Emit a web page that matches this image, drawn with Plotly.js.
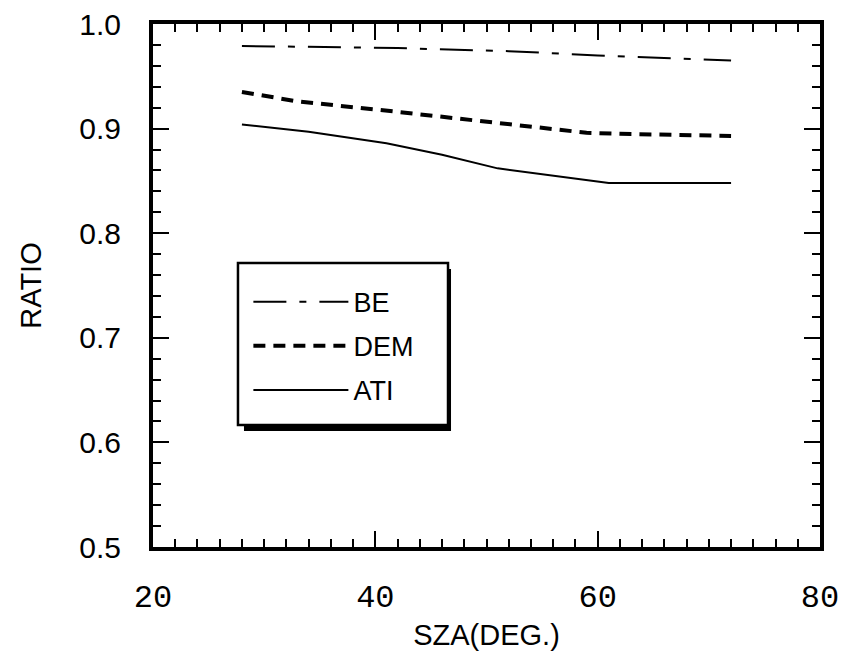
<!DOCTYPE html>
<html><head><meta charset="utf-8">
<script src="https://cdn.plot.ly/plotly-3.0.1.min.js"></script>
<style>html,body{margin:0;padding:0;background:#fff}#chart{width:848px;height:651px}</style>
</head><body><div id="chart"></div>
<script>
const seriesNames = ['BE', 'DEM', 'ATI'];
const beX = [28, 42, 52, 60, 72];
const beY = [0.979, 0.977, 0.974, 0.970, 0.965];
const demX = [28, 33, 42, 51, 59, 62, 72];
const demY = [0.935, 0.926, 0.916, 0.905, 0.896, 0.895, 0.893];
const atiX = [28, 34, 41, 46, 51, 56, 61, 72];
const atiY = [0.904, 0.897, 0.886, 0.875, 0.862, 0.855, 0.848, 0.848];
const xTickVals = [20, 40, 60, 80];
const yTickVals = [0.5, 0.6, 0.7, 0.8, 0.9, 1.0];
const yTickText = ['0.5', '0.6', '0.7', '0.8', '0.9', '1.0'];

const traces = [
  {x: beX, y: beY, name: seriesNames[0], legendgroup: 'a', mode: 'lines',
   line: {color: '#000', width: 2, dash: '33px,13px,7px,13px'}},
  {x: demX, y: demY, name: seriesNames[1], legendgroup: 'b', mode: 'lines',
   line: {color: '#000', width: 4, dash: '12px,8px'}},
  {x: atiX, y: atiY, name: seriesNames[2], legendgroup: 'c', mode: 'lines',
   line: {color: '#000', width: 2}}
];

const axisCommon = {
  showline: true, linecolor: '#000', linewidth: 4, mirror: 'allticks',
  ticks: 'inside', ticklen: 16, tickwidth: 2, tickcolor: '#000',
  showgrid: false, zeroline: false
};

const layout = {
  width: 848, height: 651,
  margin: {l: 153, r: 28, t: 24, b: 104},
  paper_bgcolor: '#fff', plot_bgcolor: '#fff',
  font: {family: 'Liberation Sans, Arial, sans-serif', color: '#000'},
  showlegend: true,
  legend: {x: 0.143, xanchor: 'left', y: 0.515, yanchor: 'top',
           bgcolor: 'rgba(0,0,0,0)', borderwidth: 0, itemwidth: 95,
           tracegroupgap: 6,
           font: {family: 'Liberation Sans, Arial, sans-serif', size: 27, color: '#000'}},
  xaxis: Object.assign({}, axisCommon, {
    range: [20, 80], tickmode: 'array', tickvals: xTickVals,
    ticklabelstandoff: 18,
    tickfont: {family: 'Liberation Mono, monospace', size: 32, color: '#000'},
    minor: {dtick: 2, tick0: 20, ticklen: 8, tickwidth: 2, ticks: 'inside', tickcolor: '#000'},
    title: {text: 'SZA(DEG.)', font: {size: 29, color: '#000'}, standoff: 12}
  }),
  yaxis: Object.assign({}, axisCommon, {
    range: [0.5, 1.0], tickmode: 'array', tickvals: yTickVals, ticktext: yTickText,
    ticklabelstandoff: 22,
    tickfont: {family: 'Liberation Sans, Arial, sans-serif', size: 30, color: '#000'},
    minor: {dtick: 0.02, tick0: 0.5, ticklen: 8, tickwidth: 2, ticks: 'inside', tickcolor: '#000'},
    title: {text: 'RATIO', font: {size: 29, color: '#000'}, standoff: 30}
  }),
  shapes: [
    {type: 'rect', xref: 'paper', yref: 'paper', x0: 0.1364, x1: 0.4468, y0: 0.2218, y1: 0.5315,
     fillcolor: '#000', line: {width: 0}, layer: 'above'},
    {type: 'rect', xref: 'paper', yref: 'paper', x0: 0.1274, x1: 0.4423, y0: 0.2333, y1: 0.543,
     fillcolor: '#fff', line: {color: '#000', width: 2.5}, layer: 'above'}
  ]
};

Plotly.newPlot('chart', traces, layout, {displayModeBar: false, staticPlot: true});
</script>
</body></html>
